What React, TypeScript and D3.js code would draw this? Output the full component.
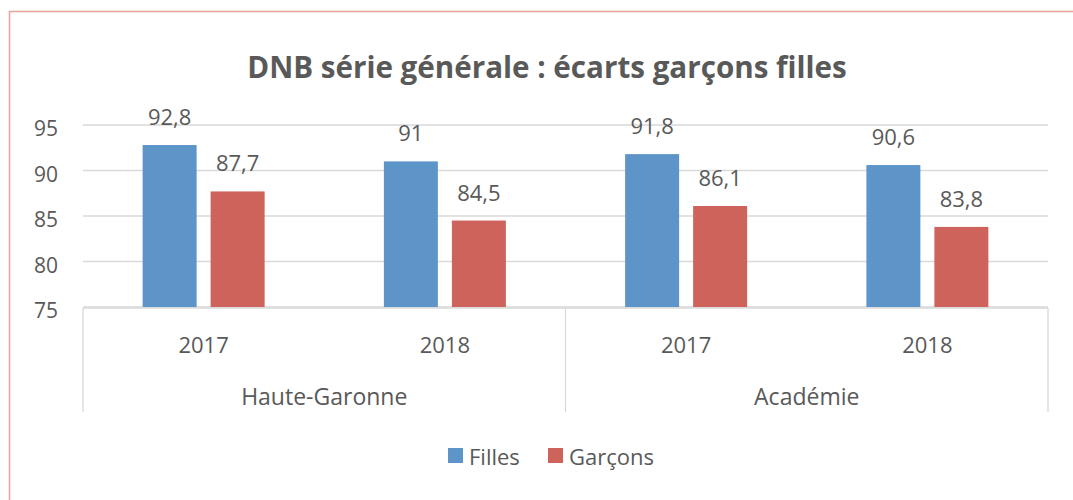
import React from "react";
import * as d3 from "d3";

// chart values
const regions = ["Haute-Garonne", "Académie"];
const years = ["2017", "2018"];
const series = ["Filles", "Garçons"];
const filles = [92.8, 91, 91.8, 90.6];
const garcons = [87.7, 84.5, 86.1, 83.8];
const yTicks = [75, 80, 85, 90, 95];

const colors: Record<string, string> = { Filles: "#5e95c9", Garçons: "#cd635a" };
const font = "'Open Sans', sans-serif";
const textColor = "#595959";

const fmt = (v: number) => String(v).replace(".", ",");

const App = () => {
  const width = 1073;
  const height = 500;
  const left = 83;
  const right = 1048;
  const top = 125;
  const bottom = 307;

  // one band per region/year pair
  const groups = regions.flatMap((r) => years.map((y) => `${r}|${y}`));
  const x = d3.scaleBand<string>().domain(groups).range([left, right]).padding(0);
  const y = d3.scaleLinear().domain([75, 95]).range([bottom, top]);

  const barW = 54;
  const gap = 14;
  const inner = d3
    .scaleBand<string>()
    .domain(series)
    .range([0, barW * 2 + gap])
    .paddingInner(gap / (barW + gap));

  const values: Record<string, number[]> = { Filles: filles, Garçons: garcons };

  const regionX = d3
    .scaleBand<string>()
    .domain(regions)
    .range([left, right]);

  return (
    <svg
      width={width}
      height={height}
      style={{ position: "absolute", left: 0, top: 0, background: "#fff" }}
      fontFamily={font}
    >
      <rect x={9.5} y={11.5} width={1200} height={600} fill="#fff" stroke="#e8a19b" strokeWidth={1.5} />

      <text
        x={547}
        y={78}
        textAnchor="middle"
        fontSize={29.6}
        fontWeight={700}
        fill={textColor}
      >
        DNB série générale : écarts garçons filles
      </text>

      {/* gridlines */}
      {yTicks.map((t) => (
        <g key={t}>
          <line x1={left} x2={right} y1={y(t)} y2={y(t)} stroke="#d9d9d9" strokeWidth={1.3} />
          <text x={58} y={y(t) + 11} textAnchor="end" fontSize={21} fill={textColor}>
            {t}
          </text>
        </g>
      ))}

      {/* bars */}
      {groups.map((g, i) => {
        const gx = (x(g) as number) + x.bandwidth() / 2 - (barW * 2 + gap) / 2;
        return series.map((s) => {
          const v = values[s][i];
          const bx = gx + (inner(s) as number);
          return (
            <g key={g + s}>
              <rect
                x={bx}
                y={y(v)}
                width={inner.bandwidth()}
                height={y(75) - y(v)}
                fill={colors[s]}
              />
              <text
                x={bx + inner.bandwidth() / 2}
                y={y(v) - 20}
                textAnchor="middle"
                fontSize={22}
                fill={textColor}
              >
                {fmt(v)}
              </text>
            </g>
          );
        });
      })}

      {/* category axis */}
      <line x1={left} x2={right} y1={308} y2={308} stroke="#d9d9d9" strokeWidth={1.3} />
      {[left, regionX(regions[1]) as number, right].map((sx, i) => (
        <line key={i} x1={sx} x2={sx} y1={308} y2={412} stroke="#d9d9d9" strokeWidth={1.3} />
      ))}
      {groups.map((g) => (
        <text
          key={g}
          x={(x(g) as number) + x.bandwidth() / 2}
          y={353}
          textAnchor="middle"
          fontSize={22}
          fill={textColor}
        >
          {g.split("|")[1]}
        </text>
      ))}
      {regions.map((r) => (
        <text
          key={r}
          x={(regionX(r) as number) + regionX.bandwidth() / 2}
          y={405}
          textAnchor="middle"
          fontSize={23}
          fill={textColor}
        >
          {r}
        </text>
      ))}

      {/* legend */}
      {series.map((s, i) => {
        const lx = i === 0 ? 448 : 548;
        return (
          <g key={s}>
            <rect x={lx} y={448} width={15} height={15} fill={colors[s]} />
            <text x={lx + 21} y={465} fontSize={22} fill={textColor}>
              {s}
            </text>
          </g>
        );
      })}
    </svg>
  );
};

export default App;
